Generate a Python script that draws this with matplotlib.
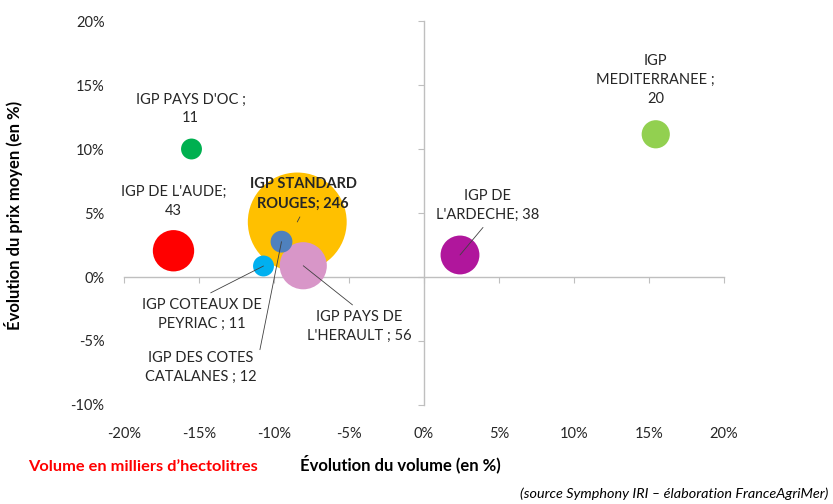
import matplotlib
matplotlib.use("Agg")
import matplotlib.pyplot as plt
from matplotlib.ticker import FuncFormatter, FixedLocator

plt.rcParams['font.family'] = ['Lato', 'DejaVu Sans']

names = ["IGP STANDARD\nROUGES; 246", "IGP PAYS D'OC ;\n11", "IGP DE L'AUDE;\n43",
         "IGP COTEAUX DE\nPEYRIAC ; 11", "IGP DES COTES\nCATALANES ; 12",
         "IGP PAYS DE\nL'HERAULT ; 56", "IGP DE\nL'ARDECHE; 38",
         "IGP\nMEDITERRANEE ;\n20"]
volume_change = [-8.45, -15.5, -16.7, -10.7, -9.5, -8.05, 2.4, 15.45]
price_change = [4.3, 10.0, 2.05, 0.86, 2.76, 0.88, 1.72, 11.15]
volumes = [246, 11, 43, 11, 12, 56, 38, 20]
colors = ["#FFC000", "#00B050", "#FF0000", "#00B0F0", "#4F81BD", "#D896C8", "#B0169C", "#92D050"]
x_ticks = [-20, -15, -10, -5, 0, 5, 10, 15, 20]
y_ticks = [-10, -5, 0, 5, 10, 15, 20]

# label offsets (pixels) and leader settings
offsets = [(6, 28), (-1, 40), (0, 49), (-62, -48), (-81, -126), (56, -61), (28, 50), (0, 54)]
leaders = [(0.5, 0.0), None, None, (0.5, 1.0), (1.0, 0.5), (0.5, 1.0), (0.5, 0.0), None]

fig = plt.figure(figsize=(8.33, 5.04), dpi=100)
ax = fig.add_axes([124/833, 1-405/504, 600/833, 384/504])
ax.set_xlim(-20, 20)
ax.set_ylim(-10, 20)

# bubbles: area proportional to volume
order = [0, 1, 2, 6, 7, 5, 3, 4]
for i in order:
    ax.scatter(volume_change[i], price_change[i], s=volumes[i]*20.6, color=colors[i],
               edgecolors='none', zorder=3)

for i, lab in enumerate(names):
    bold = (i == 0)
    kw = dict(xy=(volume_change[i], price_change[i]), xytext=offsets[i],
              textcoords='offset pixels', ha='center', va='center', fontsize=10.5,
              color='#262626', linespacing=1.45, zorder=5,
              fontweight='bold' if bold else 'normal')
    if leaders[i] is not None:
        kw['arrowprops'] = dict(arrowstyle='-', color='#404040', lw=0.6,
                                shrinkA=3, shrinkB=0, relpos=leaders[i])
    ax.annotate(lab, **kw)

# center axes
for s in ['top', 'right']:
    ax.spines[s].set_visible(False)
ax.spines['left'].set_position(('data', 0))
ax.spines['bottom'].set_position(('data', 0))
for s in ['left', 'bottom']:
    ax.spines[s].set_color('#BFBFBF')
    ax.spines[s].set_linewidth(1.0)
    ax.spines[s].set_zorder(1)
ax.xaxis.set_major_locator(FixedLocator(x_ticks))
ax.yaxis.set_major_locator(FixedLocator(y_ticks))
ax.tick_params(axis='both', which='both', direction='out', length=4, color='#BFBFBF',
               labelbottom=False, labelleft=False)

pct = FuncFormatter(lambda v, p: f"{v:.0f}%")
sx = ax.secondary_xaxis(0)
sx.xaxis.set_major_locator(FixedLocator(x_ticks))
sx.xaxis.set_major_formatter(pct)
sx.tick_params(length=0, pad=16, labelsize=10.5, labelcolor='#262626')
sx.spines['bottom'].set_visible(False)
sy = ax.secondary_yaxis(0)
sy.yaxis.set_major_locator(FixedLocator(y_ticks))
sy.yaxis.set_major_formatter(pct)
sy.tick_params(length=0, pad=14, labelsize=10.5, labelcolor='#262626')
sy.spines['left'].set_visible(False)

fig.text(400/833, 1-464/504, "Évolution du volume (en %)", ha='center', va='center',
         fontsize=12, fontweight='bold', color='#000000')
fig.text(14/833, 1-215/504, "Évolution du prix moyen (en %)", ha='center', va='center',
         rotation=90, fontsize=12, fontweight='bold', color='#000000')
fig.text(28/833, 1-467/504, "Volume en milliers d’hectolitres", ha='left', va='center',
         fontsize=11.8, fontweight='bold', color='#FF0000')
fig.text(828/833, 1-494/504, "(source Symphony IRI – élaboration FranceAgriMer)",
         ha='right', va='center', fontsize=10.4, style='italic', color='#000000')

fig.savefig("out.png", dpi=100)
